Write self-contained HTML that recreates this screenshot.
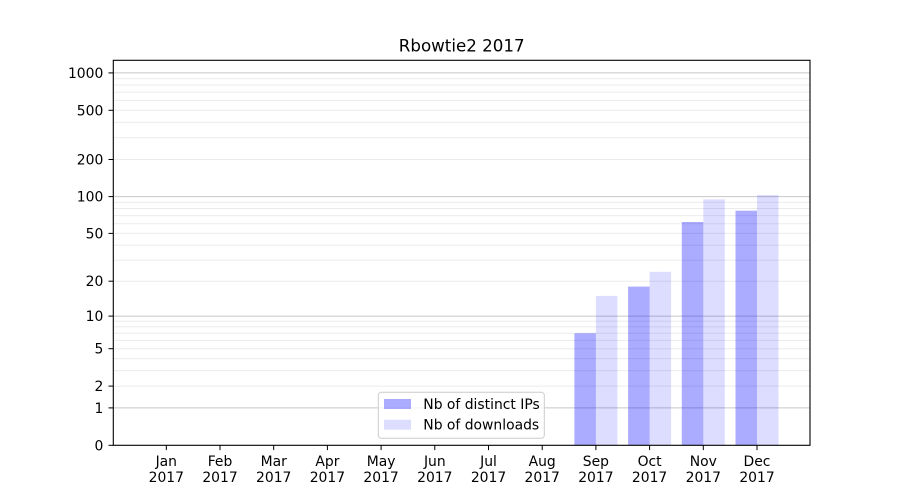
<!DOCTYPE html>
<html><head><meta charset="utf-8"><style>
html,body{margin:0;padding:0;background:#fff;}
svg{display:block;}
text{font-family:"DejaVu Sans","Liberation Sans",sans-serif;fill:#000;}
</style></head><body>
<svg width="900" height="500" viewBox="0 0 900 500" xmlns="http://www.w3.org/2000/svg">
<rect x="0" y="0" width="900" height="500" fill="#fff"/>
<!-- minor grid -->
<g stroke="#ebebeb" stroke-width="1">
<line x1="113.3" x2="810" y1="386.1" y2="386.1"/>
<line x1="113.3" x2="810" y1="370.6" y2="370.6"/>
<line x1="113.3" x2="810" y1="358.6" y2="358.6"/>
<line x1="113.3" x2="810" y1="348.7" y2="348.7"/>
<line x1="113.3" x2="810" y1="340.4" y2="340.4"/>
<line x1="113.3" x2="810" y1="333.2" y2="333.2"/>
<line x1="113.3" x2="810" y1="326.9" y2="326.9"/>
<line x1="113.3" x2="810" y1="321.2" y2="321.2"/>
<line x1="113.3" x2="810" y1="281.2" y2="281.2"/>
<line x1="113.3" x2="810" y1="260.2" y2="260.2"/>
<line x1="113.3" x2="810" y1="245.2" y2="245.2"/>
<line x1="113.3" x2="810" y1="233.4" y2="233.4"/>
<line x1="113.3" x2="810" y1="223.7" y2="223.7"/>
<line x1="113.3" x2="810" y1="215.6" y2="215.6"/>
<line x1="113.3" x2="810" y1="208.5" y2="208.5"/>
<line x1="113.3" x2="810" y1="202.2" y2="202.2"/>
<line x1="113.3" x2="810" y1="159.5" y2="159.5"/>
<line x1="113.3" x2="810" y1="137.7" y2="137.7"/>
<line x1="113.3" x2="810" y1="122.3" y2="122.3"/>
<line x1="113.3" x2="810" y1="110.3" y2="110.3"/>
<line x1="113.3" x2="810" y1="100.4" y2="100.4"/>
<line x1="113.3" x2="810" y1="92.1" y2="92.1"/>
<line x1="113.3" x2="810" y1="85.0" y2="85.0"/>
<line x1="113.3" x2="810" y1="78.6" y2="78.6"/>
</g>
<!-- major grid -->
<g stroke="#c8c8c8" stroke-width="1">
<line x1="113.3" x2="810" y1="407.9" y2="407.9"/>
<line x1="113.3" x2="810" y1="316.1" y2="316.1"/>
<line x1="113.3" x2="810" y1="196.6" y2="196.6"/>
<line x1="113.3" x2="810" y1="72.9" y2="72.9"/>
</g>
<!-- bars -->
<g fill="#0000ff" fill-opacity="0.33">
<rect x="574.4" y="333.2" width="21.5" height="112.1"/>
<rect x="628.1" y="286.6" width="21.5" height="158.7"/>
<rect x="681.8" y="222.0" width="21.5" height="223.3"/>
<rect x="735.5" y="210.7" width="21.5" height="234.6"/>
</g>
<g fill="#0000ff" fill-opacity="0.133">
<rect x="595.9" y="295.9" width="21.5" height="149.4"/>
<rect x="649.6" y="271.8" width="21.5" height="173.5"/>
<rect x="703.3" y="199.3" width="21.5" height="246.0"/>
<rect x="757.0" y="195.0" width="21.5" height="250.3"/>
</g>
<!-- axes frame -->
<rect x="113.3" y="60.3" width="696.7" height="385" fill="none" stroke="#000" stroke-width="1.1"/>
<!-- y ticks -->
<g stroke="#000" stroke-width="1">
<line x1="108.5" x2="113.3" y1="445.3" y2="445.3"/>
<line x1="108.5" x2="113.3" y1="407.9" y2="407.9"/>
<line x1="108.5" x2="113.3" y1="386.1" y2="386.1"/>
<line x1="108.5" x2="113.3" y1="348.7" y2="348.7"/>
<line x1="108.5" x2="113.3" y1="316.1" y2="316.1"/>
<line x1="108.5" x2="113.3" y1="281.2" y2="281.2"/>
<line x1="108.5" x2="113.3" y1="233.4" y2="233.4"/>
<line x1="108.5" x2="113.3" y1="196.6" y2="196.6"/>
<line x1="108.5" x2="113.3" y1="159.5" y2="159.5"/>
<line x1="108.5" x2="113.3" y1="110.3" y2="110.3"/>
<line x1="108.5" x2="113.3" y1="72.9" y2="72.9"/>
</g>
<g font-size="13.9" text-anchor="end">
<text x="103.3" y="450.3">0</text>
<text x="103.3" y="412.9">1</text>
<text x="103.3" y="391.1">2</text>
<text x="103.3" y="353.7">5</text>
<text x="103.3" y="321.1">10</text>
<text x="103.3" y="286.2">20</text>
<text x="103.3" y="238.4">50</text>
<text x="103.3" y="201.6">100</text>
<text x="103.3" y="164.5">200</text>
<text x="103.3" y="115.3">500</text>
<text x="103.3" y="77.9">1000</text>
</g>
<!-- x ticks -->
<g stroke="#000" stroke-width="1">
<line x1="166.3" x2="166.3" y1="445.3" y2="450.1"/>
<line x1="220.0" x2="220.0" y1="445.3" y2="450.1"/>
<line x1="273.7" x2="273.7" y1="445.3" y2="450.1"/>
<line x1="327.4" x2="327.4" y1="445.3" y2="450.1"/>
<line x1="381.1" x2="381.1" y1="445.3" y2="450.1"/>
<line x1="434.8" x2="434.8" y1="445.3" y2="450.1"/>
<line x1="488.5" x2="488.5" y1="445.3" y2="450.1"/>
<line x1="542.2" x2="542.2" y1="445.3" y2="450.1"/>
<line x1="595.9" x2="595.9" y1="445.3" y2="450.1"/>
<line x1="649.6" x2="649.6" y1="445.3" y2="450.1"/>
<line x1="703.3" x2="703.3" y1="445.3" y2="450.1"/>
<line x1="757.0" x2="757.0" y1="445.3" y2="450.1"/>
</g>
<g font-size="13.9" text-anchor="middle">
<text x="166.3" y="466">Jan</text><text x="166.3" y="482">2017</text>
<text x="220.0" y="466">Feb</text><text x="220.0" y="482">2017</text>
<text x="273.7" y="466">Mar</text><text x="273.7" y="482">2017</text>
<text x="327.4" y="466">Apr</text><text x="327.4" y="482">2017</text>
<text x="381.1" y="466">May</text><text x="381.1" y="482">2017</text>
<text x="434.8" y="466">Jun</text><text x="434.8" y="482">2017</text>
<text x="488.5" y="466">Jul</text><text x="488.5" y="482">2017</text>
<text x="542.2" y="466">Aug</text><text x="542.2" y="482">2017</text>
<text x="595.9" y="466">Sep</text><text x="595.9" y="482">2017</text>
<text x="649.6" y="466">Oct</text><text x="649.6" y="482">2017</text>
<text x="703.3" y="466">Nov</text><text x="703.3" y="482">2017</text>
<text x="757.0" y="466">Dec</text><text x="757.0" y="482">2017</text>
</g>
<!-- title -->
<text x="461.7" y="51.7" font-size="16.7" text-anchor="middle">Rbowtie2 2017</text>
<!-- legend -->
<rect x="378.3" y="392.3" width="166" height="46" rx="3" ry="3" fill="#fff" fill-opacity="0.8" stroke="#cccccc" stroke-width="1"/>
<rect x="384" y="399" width="27" height="10" fill="#0000ff" fill-opacity="0.33"/>
<rect x="384" y="419.7" width="27" height="10" fill="#0000ff" fill-opacity="0.133"/>
<g font-size="13.9">
<text x="423.3" y="409">Nb of distinct IPs</text>
<text x="423.3" y="429.7">Nb of downloads</text>
</g>
</svg>
</body></html>
